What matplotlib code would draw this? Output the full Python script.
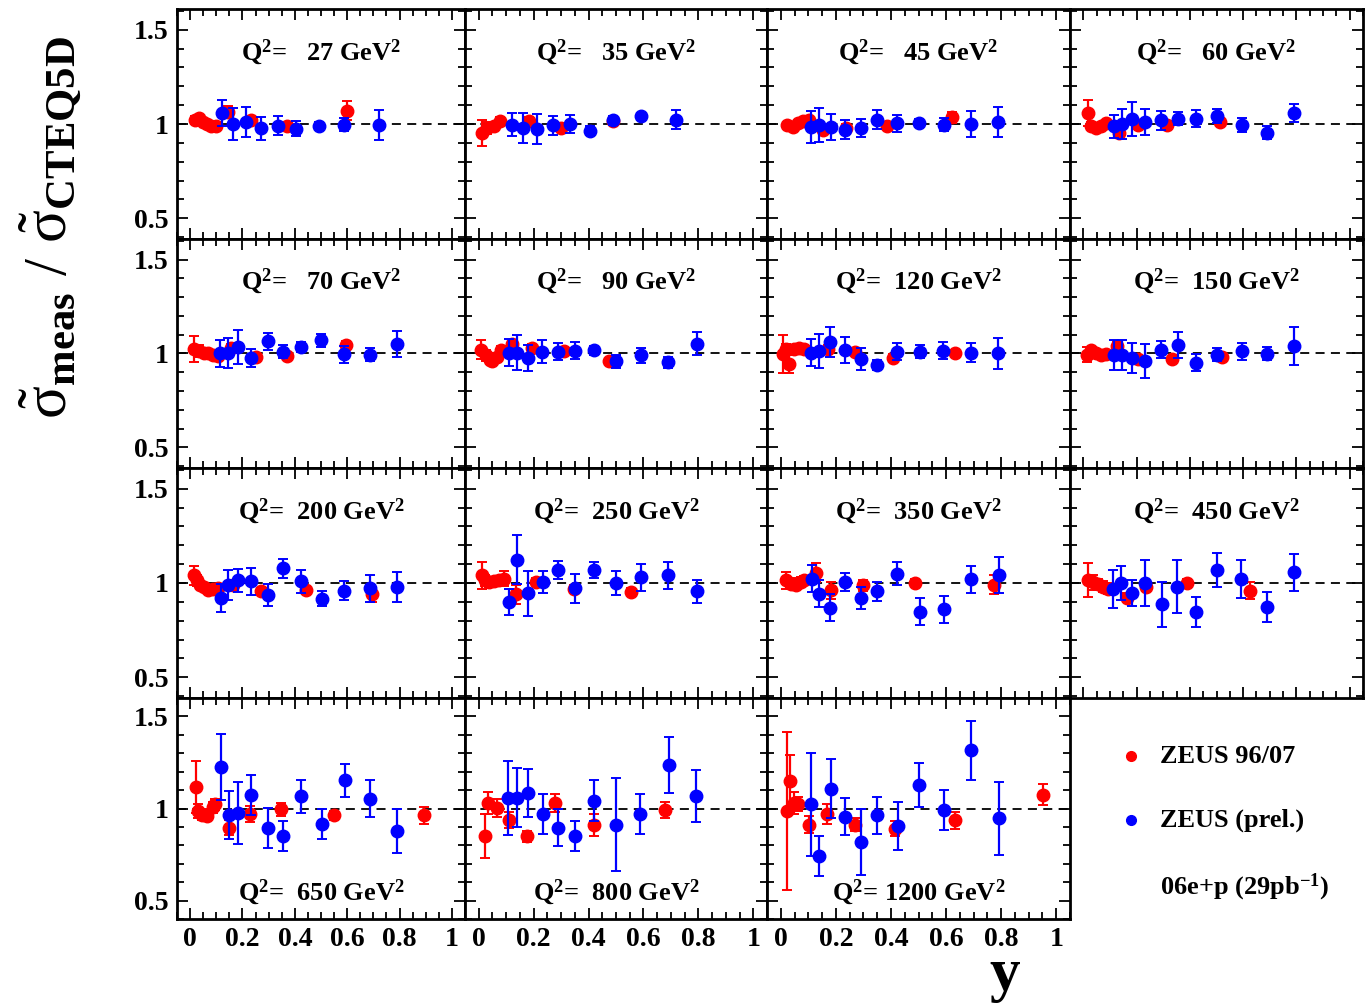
import matplotlib
matplotlib.use('Agg')
import matplotlib.pyplot as plt
from matplotlib.ticker import MultipleLocator, FuncFormatter
from matplotlib.lines import Line2D

plt.rcParams['font.family'] = 'Liberation Serif'
plt.rcParams['font.weight'] = 'bold'
plt.rcParams['mathtext.fontset'] = 'custom'
plt.rcParams['mathtext.rm'] = 'Liberation Serif:weight=normal'
plt.rcParams['mathtext.bf'] = 'Liberation Serif:bold'
plt.rcParams['mathtext.it'] = 'Liberation Serif:italic'

# Q^2 bins (GeV^2), one panel each
q2_bins = [27, 35, 45, 60, 70, 90, 120, 150, 200, 250, 350, 450, 650, 800, 1200]

# ZEUS 96/07: y, ratio to CTEQ5D, error  (one row per Q^2 bin)
old_y = [
    [0.02, 0.035, 0.05, 0.065, 0.08, 0.10, 0.146, 0.234, 0.372, 0.599],
    [0.012, 0.03, 0.055, 0.079, 0.183, 0.299, 0.488],
    [0.024, 0.043, 0.061, 0.079, 0.104, 0.152, 0.238, 0.384, 0.622],
    [0.018, 0.03, 0.048, 0.067, 0.085, 0.133, 0.206, 0.315, 0.515],
    [0.014, 0.033, 0.052, 0.07, 0.089, 0.108, 0.158, 0.253, 0.372, 0.596],
    [0.01, 0.025, 0.04, 0.05, 0.065, 0.08, 0.122, 0.195, 0.311, 0.474],
    [0.008, 0.018, 0.03, 0.049, 0.067, 0.085, 0.171, 0.268, 0.409, 0.634],
    [0.012, 0.03, 0.048, 0.067, 0.085, 0.127, 0.206, 0.333, 0.521],
    [0.014, 0.026, 0.039, 0.052, 0.07, 0.089, 0.108, 0.165, 0.272, 0.442, 0.693],
    [0.012, 0.024, 0.037, 0.055, 0.073, 0.092, 0.134, 0.208, 0.348, 0.553],
    [0.018, 0.037, 0.055, 0.073, 0.085, 0.128, 0.183, 0.299, 0.488, 0.774],
    [0.018, 0.036, 0.055, 0.073, 0.091, 0.164, 0.236, 0.388, 0.624],
    [0.023, 0.03, 0.045, 0.064, 0.089, 0.096, 0.148, 0.228, 0.347, 0.551, 0.894],
    [0.024, 0.034, 0.067, 0.11, 0.175, 0.277, 0.421, 0.68],
    [0.022, 0.034, 0.049, 0.061, 0.104, 0.167, 0.268, 0.415, 0.634, 0.951],
]
old_ratio = [
    [1.02, 1.03, 1.01, 1.00, 0.99, 0.99, 1.066, 1.023, 0.988, 1.07],
    [0.953, 0.979, 0.988, 1.017, 1.017, 0.981, 1.014],
    [0.993, 0.983, 1.005, 1.014, 1.023, 0.97, 0.979, 0.988, 1.035],
    [1.058, 0.988, 0.981, 0.988, 1.005, 0.953, 0.995, 0.995, 1.012],
    [1.023, 1.014, 1.005, 1.0, 0.993, 0.988, 1.031, 0.983, 0.988, 1.045],
    [1.02, 0.99, 0.965, 0.96, 0.98, 1.02, 1.049, 1.031, 1.014, 0.958],
    [0.997, 1.023, 0.944, 1.023, 1.031, 1.023, 1.023, 1.01, 0.976, 1.0],
    [0.993, 1.016, 1.005, 0.993, 0.998, 1.04, 0.969, 0.969, 0.98],
    [1.04, 1.014, 0.988, 0.979, 0.962, 0.967, 0.971, 0.988, 0.955, 0.962, 0.939],
    [1.04, 1.014, 1.005, 1.009, 1.014, 1.022, 0.94, 1.005, 0.967, 0.954],
    [1.014, 0.997, 0.988, 1.005, 1.014, 1.055, 0.962, 0.988, 1.002, 0.99],
    [1.016, 1.005, 0.993, 0.981, 0.969, 0.922, 0.98, 1.0, 0.958],
    [1.116, 0.986, 0.967, 0.96, 1.007, 1.022, 0.895, 0.971, 0.995, 0.962, 0.962],
    [0.85, 1.031, 1.004, 0.937, 0.85, 1.031, 0.909, 0.991],
    [0.986, 1.149, 1.031, 1.025, 0.913, 0.971, 0.913, 0.891, 0.935, 1.076],
]
old_err = [
    [0.02, 0.02, 0.015, 0.015, 0.015, 0.015, 0.03, 0.02, 0.015, 0.05],
    [0.07, 0.03, 0.02, 0.02, 0.02, 0.015, 0.015],
    [0.015, 0.015, 0.015, 0.015, 0.02, 0.02, 0.02, 0.015, 0.03],
    [0.07, 0.02, 0.015, 0.015, 0.015, 0.02, 0.015, 0.015, 0.015],
    [0.07, 0.03, 0.02, 0.015, 0.015, 0.015, 0.02, 0.02, 0.015, 0.02],
    [0.05, 0.03, 0.02, 0.02, 0.02, 0.02, 0.02, 0.02, 0.015, 0.015],
    [0.1, 0.03, 0.05, 0.02, 0.02, 0.02, 0.02, 0.015, 0.02, 0.015],
    [0.04, 0.02, 0.02, 0.015, 0.015, 0.02, 0.015, 0.015, 0.015],
    [0.05, 0.03, 0.02, 0.02, 0.02, 0.02, 0.02, 0.02, 0.02, 0.02, 0.04],
    [0.07, 0.03, 0.025, 0.025, 0.025, 0.04, 0.05, 0.02, 0.02, 0.02],
    [0.045, 0.03, 0.025, 0.025, 0.025, 0.05, 0.045, 0.03, 0.02, 0.05],
    [0.09, 0.04, 0.03, 0.03, 0.03, 0.025, 0.025, 0.02, 0.045],
    [0.14, 0.04, 0.03, 0.03, 0.03, 0.03, 0.04, 0.045, 0.035, 0.025, 0.045],
    [0.12, 0.06, 0.05, 0.045, 0.03, 0.05, 0.06, 0.045],
    [0.43, 0.14, 0.06, 0.04, 0.045, 0.055, 0.035, 0.04, 0.045, 0.055],
]

# ZEUS preliminary (06e+p): y, ratio to CTEQ5D, error
new_y = [
    [0.123, 0.162, 0.215, 0.272, 0.335, 0.404, 0.494, 0.586, 0.72],
    [0.12, 0.162, 0.211, 0.272, 0.333, 0.405, 0.488, 0.591, 0.72],
    [0.11, 0.14, 0.183, 0.234, 0.293, 0.348, 0.421, 0.5, 0.591, 0.689, 0.79],
    [0.115, 0.145, 0.182, 0.233, 0.291, 0.354, 0.422, 0.5, 0.594, 0.69, 0.79],
    [0.114, 0.146, 0.184, 0.234, 0.297, 0.353, 0.423, 0.5, 0.586, 0.687, 0.79],
    [0.11, 0.14, 0.181, 0.232, 0.29, 0.352, 0.421, 0.5, 0.591, 0.69, 0.795],
    [0.11, 0.14, 0.18, 0.232, 0.293, 0.35, 0.421, 0.504, 0.589, 0.689, 0.79],
    [0.115, 0.145, 0.182, 0.233, 0.293, 0.354, 0.424, 0.5, 0.594, 0.688, 0.79],
    [0.117, 0.146, 0.184, 0.234, 0.297, 0.353, 0.423, 0.504, 0.589, 0.687, 0.791],
    [0.11, 0.14, 0.181, 0.234, 0.287, 0.352, 0.421, 0.5, 0.591, 0.69, 0.795],
    [0.113, 0.14, 0.179, 0.234, 0.293, 0.35, 0.421, 0.504, 0.591, 0.689, 0.793],
    [0.112, 0.143, 0.184, 0.233, 0.295, 0.352, 0.424, 0.5, 0.592, 0.688, 0.79],
    [0.118, 0.148, 0.184, 0.234, 0.297, 0.353, 0.425, 0.502, 0.59, 0.687, 0.79],
    [0.107, 0.14, 0.181, 0.234, 0.289, 0.35, 0.421, 0.5, 0.589, 0.692, 0.793],
    [0.11, 0.14, 0.183, 0.234, 0.293, 0.351, 0.424, 0.502, 0.591, 0.691, 0.793],
]
new_ratio = [
    [1.058, 1.0, 1.01, 0.977, 0.99, 0.975, 0.99, 0.997, 0.993],
    [0.997, 0.98, 0.972, 0.993, 1.0, 0.965, 1.02, 1.04, 1.022],
    [0.983, 0.997, 0.983, 0.97, 0.979, 1.023, 1.005, 1.005, 0.997, 1.0, 1.01],
    [0.988, 1.0, 1.028, 1.012, 1.019, 1.028, 1.028, 1.042, 0.995, 0.953, 1.058],
    [1.0, 1.005, 1.035, 0.976, 1.066, 1.01, 1.035, 1.07, 0.997, 0.993, 1.05],
    [1.005, 1.005, 0.976, 1.01, 1.01, 1.014, 1.017, 0.958, 0.99, 0.954, 1.052],
    [1.005, 1.014, 1.063, 1.017, 0.97, 0.939, 1.01, 1.01, 1.014, 1.005, 1.0],
    [0.993, 0.993, 0.974, 0.958, 1.02, 1.047, 0.951, 0.993, 1.012, 0.998, 1.04],
    [0.922, 0.991, 1.014, 1.009, 0.936, 1.078, 1.009, 0.917, 0.96, 0.971, 0.979],
    [0.898, 1.123, 0.945, 1.005, 1.069, 0.971, 1.069, 1.0, 1.03, 1.04, 0.955],
    [1.023, 0.944, 0.869, 1.005, 0.921, 0.956, 1.049, 0.848, 0.86, 1.019, 1.044],
    [0.969, 1.0, 0.946, 1.0, 0.887, 0.981, 0.845, 1.07, 1.023, 0.873, 1.056],
    [1.225, 0.967, 0.975, 1.072, 0.895, 0.85, 1.067, 0.917, 1.154, 1.054, 0.879],
    [1.058, 1.058, 1.085, 0.971, 0.895, 0.85, 1.043, 0.913, 0.971, 1.236, 1.067],
    [1.022, 0.743, 1.107, 0.955, 0.819, 0.964, 0.906, 1.127, 0.991, 1.315, 0.946],
]
new_err = [
    [0.07, 0.085, 0.08, 0.06, 0.05, 0.04, 0.02, 0.035, 0.08],
    [0.06, 0.08, 0.08, 0.05, 0.05, 0.025, 0.025, 0.02, 0.05],
    [0.085, 0.09, 0.07, 0.05, 0.05, 0.05, 0.045, 0.02, 0.035, 0.07, 0.08],
    [0.06, 0.08, 0.09, 0.07, 0.05, 0.035, 0.045, 0.035, 0.035, 0.035, 0.05],
    [0.07, 0.08, 0.09, 0.05, 0.045, 0.035, 0.025, 0.035, 0.045, 0.035, 0.07],
    [0.07, 0.095, 0.07, 0.06, 0.045, 0.045, 0.025, 0.035, 0.04, 0.03, 0.06],
    [0.07, 0.09, 0.08, 0.07, 0.06, 0.025, 0.045, 0.035, 0.045, 0.05, 0.08],
    [0.08, 0.08, 0.08, 0.09, 0.045, 0.07, 0.045, 0.035, 0.045, 0.035, 0.1],
    [0.075, 0.08, 0.06, 0.07, 0.06, 0.05, 0.06, 0.04, 0.05, 0.07, 0.08],
    [0.07, 0.13, 0.12, 0.06, 0.05, 0.075, 0.045, 0.065, 0.07, 0.07, 0.06],
    [0.07, 0.07, 0.07, 0.05, 0.06, 0.05, 0.06, 0.07, 0.07, 0.07, 0.095],
    [0.1, 0.09, 0.07, 0.12, 0.12, 0.14, 0.08, 0.09, 0.1, 0.08, 0.1],
    [0.18, 0.13, 0.17, 0.11, 0.11, 0.08, 0.09, 0.08, 0.09, 0.1, 0.12],
    [0.2, 0.16, 0.13, 0.11, 0.1, 0.08, 0.11, 0.25, 0.11, 0.15, 0.14],
    [0.28, 0.11, 0.16, 0.1, 0.18, 0.1, 0.13, 0.12, 0.11, 0.16, 0.2],
]

W, H = 1365, 1005
col_edges = [(177, 465), (465, 767), (767, 1070), (1070, 1363)]
row_edges = [(9, 239), (239, 468), (468, 698), (698, 919)]

fig = plt.figure(figsize=(W / 100, H / 100), dpi=100)

fmt = FuncFormatter(lambda v, _: f'{v:g}')

for i, q2 in enumerate(q2_bins):
    row, col = divmod(i, 4)
    x0, x1 = col_edges[col]
    y0, y1 = row_edges[row]
    ax = fig.add_axes([x0 / W, 1 - y1 / H, (x1 - x0) / W, (y1 - y0) / H])
    ax.set_xlim(-0.05, 1.05)
    if row == 3:
        ax.set_ylim(0.40, 1.60)
    else:
        ax.set_ylim(0.39, 1.61)

    ax.axhline(1.0, color='black', lw=1.3, ls=(0, (5, 3.5)), zorder=1)

    ax.errorbar(old_y[i], old_ratio[i], yerr=old_err[i], fmt='o', color='#ff0000',
                ms=9, elinewidth=1.6, capsize=3.5, capthick=1.4, zorder=3)
    ax.errorbar(new_y[i], new_ratio[i], yerr=new_err[i], fmt='o', color='#0000ff',
                ms=9, elinewidth=1.6, capsize=3.5, capthick=1.4, zorder=4)

    ax.xaxis.set_major_locator(MultipleLocator(0.2))
    ax.xaxis.set_minor_locator(MultipleLocator(0.05))
    ax.yaxis.set_major_locator(MultipleLocator(0.5))
    ax.yaxis.set_minor_locator(MultipleLocator(0.1))
    ax.xaxis.set_major_formatter(fmt)
    ax.yaxis.set_major_formatter(fmt)
    ax.tick_params(which='both', direction='in', top=True, right=True, width=1.3,
                   labelsize=20, labelleft=(col == 0), labelbottom=(row == 3))
    ax.tick_params(which='major', length=8, pad=6)
    ax.tick_params(which='minor', length=5)
    for s in ax.spines.values():
        s.set_linewidth(2)

    label = f'Q$^{{\\mathbf{{2}}}}$= {q2:4d} GeV$^{{\\mathbf{{2}}}}$'
    ty = 0.12 if row == 3 else 0.815
    ax.text(0.5, ty, label, transform=ax.transAxes, ha='center', va='center',
            fontsize=19, fontweight='bold')

# legend in the empty bottom-right cell
legend_rows = [('#ff0000', 'ZEUS 96/07', 756), ('#0000ff', 'ZEUS (prel.)', 820)]
for color, text, ypix in legend_rows:
    fig.add_artist(Line2D([1131 / W], [1 - ypix / H], marker='o', ls='', color=color,
                          ms=7, transform=fig.transFigure))
    fig.text(1160 / W, 1 - ypix / H, text, ha='left', va='center', fontsize=19,
             fontweight='bold')
fig.text(1160 / W, 1 - 887 / H, '06e+p (29pb$^{\\mathbf{-1}}$)', ha='left', va='center',
         fontsize=19, fontweight='bold')

fig.text(50 / W, 1 - 227 / H,
         r'$\tilde{\mathrm{\sigma}}_{\mathbf{meas}}\ /\ \tilde{\mathrm{\sigma}}_{\mathbf{CTEQ5D}}$',
         rotation=90, ha='center', va='center', fontsize=44)
fig.text(1005 / W, 1 - 1003 / H, 'y', ha='center', va='bottom', fontsize=44,
         fontweight='bold')

fig.savefig('out.png', dpi=100)
